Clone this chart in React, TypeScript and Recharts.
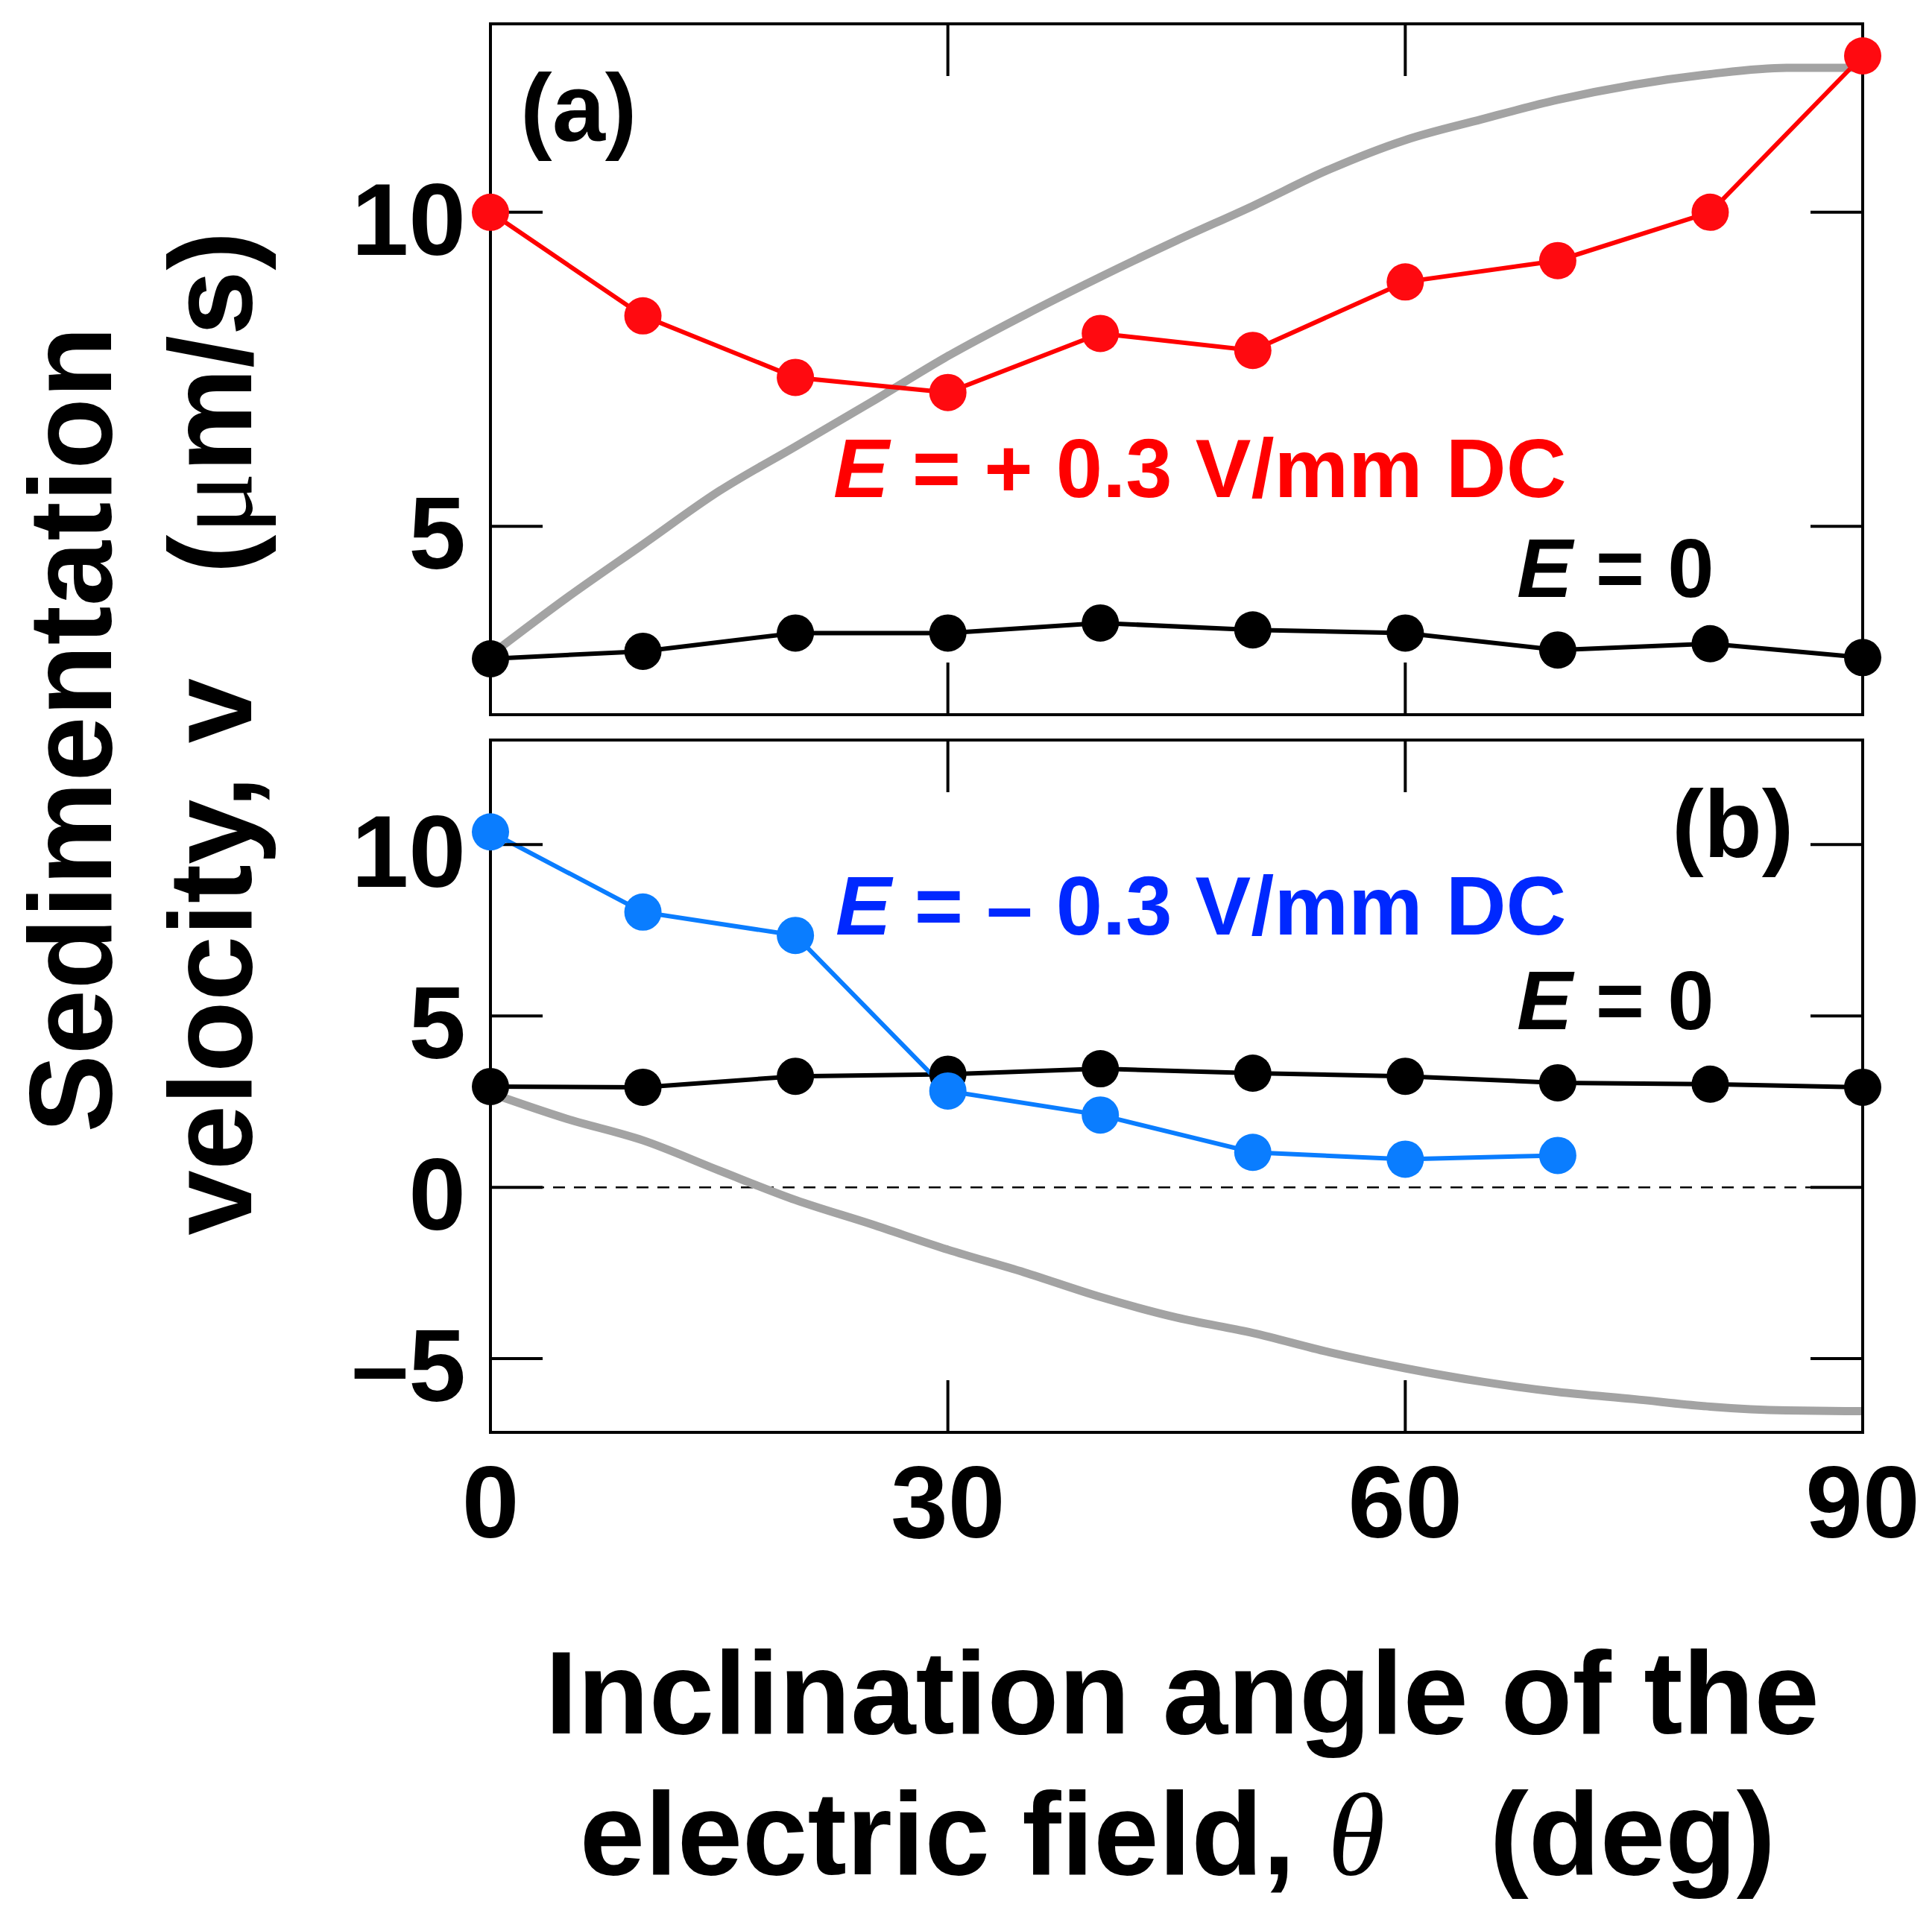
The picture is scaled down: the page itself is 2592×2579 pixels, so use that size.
import { Line, LineChart, ReferenceLine, XAxis, YAxis } from 'recharts';

// measured angles (deg)
const angles = [0, 10, 20, 30, 40, 50, 60, 70, 80, 90];
const negativeAngles = [0, 10, 20, 30, 40, 50, 60, 70];
const curveAngles = [0, 5, 10, 15, 20, 25, 30, 35, 40, 45, 50, 55, 60, 65, 70, 75, 80, 85, 90];

// panel (a)
const topZeroField = [2.89, 3.01, 3.3, 3.3, 3.46, 3.35, 3.3, 3.03, 3.13, 2.91];
const topPositiveField = [10.0, 8.35, 7.37, 7.13, 8.07, 7.8, 8.89, 9.23, 10.0, 12.49];
const topCurve = [2.95, 3.86, 4.71, 5.56, 6.27, 6.98, 7.71, 8.36, 8.97, 9.55, 10.1, 10.68, 11.15, 11.48, 11.79, 12.03, 12.2, 12.3, 12.3];

// panel (b)
const bottomZeroField = [2.94, 2.92, 3.24, 3.3, 3.46, 3.33, 3.24, 3.05, 3.01, 2.92];
const bottomNegativeField = [10.37, 8.03, 7.35, 2.81, 2.11, 1.02, 0.82, 0.93];
const bottomCurve = [2.75, 2.0, 1.37, 0.49, -0.37, -1.08, -1.82, -2.48, -3.2, -3.8, -4.25, -4.81, -5.28, -5.67, -5.97, -6.18, -6.4, -6.51, -6.53];

const xTicks = [0, 30, 60, 90];
const topYTicks = [5, 10];
const bottomYTicks = [-5, 0, 5, 10];

const SANS = '"Liberation Sans", Arial, sans-serif';
const SERIF = '"Liberation Serif", "Times New Roman", serif';
const RED = '#ff0a10';
const BLUE = '#0a7dff';
const BLUE_TEXT = '#0028ff';
const GRAY = '#a3a3a3';

const toPoints = (xs: number[], ys: number[]) => xs.map((angle, i) => ({ angle, v: ys[i] }));

const frame = { stroke: '#000', strokeWidth: 4, strokeLinecap: 'square' as const };
const tickLine = { stroke: '#000', strokeWidth: 4 };

const fmt = (v: number) => (v < 0 ? `\u2013${Math.abs(v)}` : String(v));

// tick marks only, no label
const noLabel = () => <g />;

function YTick(props: any) {
  const { x, y, payload } = props;
  return (
    <text x={x} y={y} dy={57} textAnchor="end" fontFamily={SANS} fontSize={138} fontWeight="bold" fill="#000">
      {fmt(payload.value)}
    </text>
  );
}

function XTick(props: any) {
  const { x, y, payload } = props;
  return (
    <text x={x} y={y} dy={141} textAnchor="middle" fontFamily={SANS} fontSize={138} fontWeight="bold" fill="#000">
      {payload.value}
    </text>
  );
}

function Panel({
  height, topPad, bottomPad, domain, yTicks, showXLabels, mirrorData, children,
}: {
  height: number; topPad: number; bottomPad: number; domain: [number, number];
  yTicks: number[]; showXLabels: boolean; mirrorData: { angle: number; v: number }[];
  children: React.ReactNode;
}) {
  return (
    <LineChart width={2592} height={height} margin={{ top: 0, right: 0, bottom: 0, left: 0 }}>
      <XAxis xAxisId="b" type="number" dataKey="angle" domain={[0, 90]} ticks={xTicks} interval={0}
        height={bottomPad} tickSize={-70} tickMargin={70} tickLine={tickLine} axisLine={frame}
        tick={showXLabels ? (p: any) => <XTick {...p} /> : noLabel} />
      <XAxis xAxisId="t" orientation="top" type="number" dataKey="angle" domain={[0, 90]} ticks={xTicks} interval={0}
        height={topPad} tickSize={-70} tickLine={tickLine} axisLine={frame} tick={noLabel} />
      <YAxis yAxisId="l" type="number" domain={domain} ticks={yTicks} interval={0} width={658}
        tickSize={-70} tickMargin={103} tickLine={tickLine} axisLine={frame} tick={(p: any) => <YTick {...p} />} />
      <YAxis yAxisId="r" orientation="right" type="number" domain={domain} ticks={yTicks} interval={0} width={93}
        tickSize={-70} tickLine={tickLine} axisLine={frame} tick={noLabel} />
      {/* invisible copy so the top and right axes get a scale and draw their ticks */}
      <Line xAxisId="t" yAxisId="r" data={mirrorData} dataKey="v" stroke="none" dot={false}
        activeDot={false} isAnimationActive={false} />
      {children}
    </LineChart>
  );
}

function series(data: { angle: number; v: number }[], color: string, width: number, dotColor?: string) {
  return (
    <Line xAxisId="b" yAxisId="l" data={data} dataKey="v" type={dotColor ? 'linear' : 'monotone'}
      stroke={color} strokeWidth={width}
      dot={dotColor ? { r: 25, fill: dotColor, stroke: 'none' } : false} activeDot={false}
      isAnimationActive={false} />
  );
}

export default function App() {
  const text = { fontFamily: SANS, fontWeight: 'bold' as const };
  const topZero = toPoints(angles, topZeroField);
  const bottomZero = toPoints(angles, bottomZeroField);
  return (
    <div style={{ position: 'absolute', left: 0, top: 0, width: 2592, height: 2579, background: '#fff' }}>
      <div style={{ position: 'absolute', left: 0, top: 0 }}>
        <Panel height={1000} topPad={32} bottomPad={41} domain={[2, 13]} yTicks={topYTicks}
          showXLabels={false} mirrorData={topZero}>
          {series(toPoints(curveAngles, topCurve), GRAY, 11)}
          {series(toPoints(angles, topPositiveField), '#ff0000', 6, RED)}
          {series(topZero, '#000', 6, '#000')}
        </Panel>
      </div>
      <div style={{ position: 'absolute', left: 0, top: 960 }}>
        <Panel height={1619} topPad={33} bottomPad={657} domain={[-7.15, 13.05]} yTicks={bottomYTicks}
          showXLabels mirrorData={bottomZero}>
          <ReferenceLine xAxisId="b" yAxisId="l" y={0} stroke="#000" strokeWidth={2.5} strokeDasharray="16 12" />
          {series(toPoints(curveAngles, bottomCurve), GRAY, 11)}
          {series(bottomZero, '#000', 6, '#000')}
          {series(toPoints(negativeAngles, bottomNegativeField), BLUE, 6, BLUE)}
        </Panel>
      </div>
      <svg width={2592} height={2579} style={{ position: 'absolute', left: 0, top: 0, pointerEvents: 'none' }}>
        <text x={698} y={189} fontSize={128} {...text}>(a)</text>
        <text x={2243} y={1150} fontSize={128} {...text}>(b)</text>

        <text x={1118} y={667} fontSize={112} fill="#ff0000" {...text}>
          <tspan fontStyle="italic">E</tspan> = + 0.3 V/mm DC
        </text>
        <text x={2035} y={801} fontSize={112} fill="#000" {...text}>
          <tspan fontStyle="italic">E</tspan> = 0
        </text>
        <text x={1121} y={1254} fontSize={112} fill={BLUE_TEXT} {...text}>
          <tspan fontStyle="italic">E</tspan> = {'\u2013'} 0.3 V/mm DC
        </text>
        <text x={2035} y={1381} fontSize={112} fill="#000" {...text}>
          <tspan fontStyle="italic">E</tspan> = 0
        </text>

        <text x={1586} y={2326} fontSize={157} textAnchor="middle" {...text}>Inclination angle of the</text>
        <text x={1580} y={2515} fontSize={157} textAnchor="middle" {...text}>
          electric field,{' '}
          <tspan fontFamily={SERIF} fontStyle="italic" fontWeight="normal">{'\u03b8'}</tspan>
          <tspan dx={140}>(deg)</tspan>
        </text>

        <text transform="translate(149 979) rotate(-90)" fontSize={157} textAnchor="middle" {...text}>Sedimentation</text>
        <text transform="translate(337 984) rotate(-90)" fontSize={157} textAnchor="middle" {...text}>
          velocity, v
          <tspan dx={140}>(</tspan>
          <tspan fontFamily={SERIF} fontWeight="normal">{'\u03bc'}</tspan>
          <tspan>m/s)</tspan>
        </text>
      </svg>
    </div>
  );
}
